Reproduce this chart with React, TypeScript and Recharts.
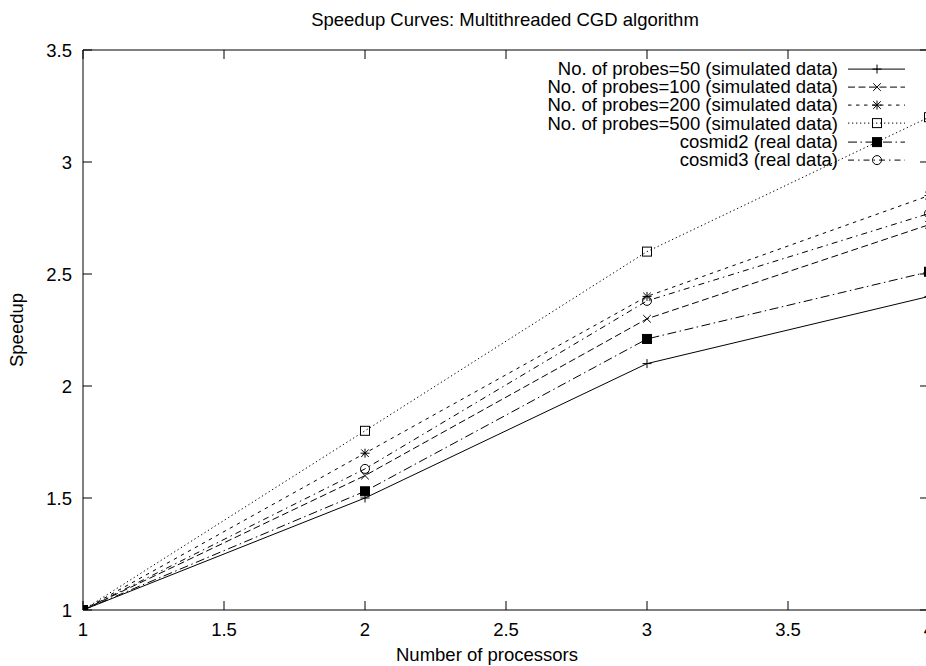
import React from 'react';
import { LineChart, Line, XAxis, YAxis, Legend, Label } from 'recharts';

const FONT = '"Liberation Sans", Arial, Helvetica, sans-serif';
const FS = 18.5;

const processors = [1, 2, 3, 4];
const probes50 = [1, 1.5, 2.1, 2.4];
const probes100 = [1, 1.6, 2.3, 2.72];
const probes200 = [1, 1.7, 2.4, 2.85];
const probes500 = [1, 1.8, 2.6, 3.2];
const cosmid2 = [1, 1.53, 2.21, 2.51];
const cosmid3 = [1, 1.63, 2.38, 2.77];
const xTicks = [1, 1.5, 2, 2.5, 3, 3.5, 4];
const yTicks = [1, 1.5, 2, 2.5, 3, 3.5];
const seriesNames = [
  'No. of probes=50 (simulated data)',
  'No. of probes=100 (simulated data)',
  'No. of probes=200 (simulated data)',
  'No. of probes=500 (simulated data)',
  'cosmid2 (real data)',
  'cosmid3 (real data)',
];
const titleText = 'Speedup Curves: Multithreaded CGD algorithm';
const xLabel = 'Number of processors';
const yLabel = 'Speedup';

const data = processors.map((x, i) => ({
  x,
  p50: probes50[i],
  p100: probes100[i],
  p200: probes200[i],
  p500: probes500[i],
  c2: cosmid2[i],
  c3: cosmid3[i],
}));

type MarkerType = 'plus' | 'cross' | 'star' | 'box' | 'fbox' | 'circle';

const series: { key: string; name: string; dash?: string; marker: MarkerType }[] = [
  { key: 'p50', name: seriesNames[0], dash: undefined, marker: 'plus' },
  { key: 'p100', name: seriesNames[1], dash: '7 3.5', marker: 'cross' },
  { key: 'p200', name: seriesNames[2], dash: '3.5 4.5', marker: 'star' },
  { key: 'p500', name: seriesNames[3], dash: '1.3 2.7', marker: 'box' },
  { key: 'c2', name: seriesNames[4], dash: '9 3.5 1.5 3.5', marker: 'fbox' },
  { key: 'c3', name: seriesNames[5], dash: '6 4 1.5 4', marker: 'circle' },
];

function Marker({ type, cx, cy }: { type: MarkerType; cx: number; cy: number }) {
  const s = 4.5;
  const d = 3.8;
  const common = { stroke: '#000', strokeWidth: 1, strokeDasharray: 'none' } as any;
  switch (type) {
    case 'plus':
      return (
        <g>
          <line x1={cx - s} y1={cy} x2={cx + s} y2={cy} {...common} />
          <line x1={cx} y1={cy - s} x2={cx} y2={cy + s} {...common} />
        </g>
      );
    case 'cross':
      return (
        <g>
          <line x1={cx - d} y1={cy - d} x2={cx + d} y2={cy + d} {...common} />
          <line x1={cx - d} y1={cy + d} x2={cx + d} y2={cy - d} {...common} />
        </g>
      );
    case 'star':
      return (
        <g>
          <line x1={cx - s} y1={cy} x2={cx + s} y2={cy} {...common} />
          <line x1={cx} y1={cy - s} x2={cx} y2={cy + s} {...common} />
          <line x1={cx - d} y1={cy - d} x2={cx + d} y2={cy + d} {...common} />
          <line x1={cx - d} y1={cy + d} x2={cx + d} y2={cy - d} {...common} />
        </g>
      );
    case 'box':
      return <rect x={cx - s} y={cy - s} width={2 * s} height={2 * s} fill="none" {...common} />;
    case 'fbox':
      return <rect x={cx - s} y={cy - s} width={2 * s} height={2 * s} fill="#000" {...common} />;
    case 'circle':
    default:
      return <circle cx={cx} cy={cy} r={s} fill="none" {...common} />;
  }
}

function LegendContent() {
  return (
    <div style={{ fontFamily: FONT, fontSize: FS, color: '#000' }}>
      {series.map((s) => (
        <div key={s.key} style={{ display: 'flex', alignItems: 'center', height: 18.2 }}>
          <div style={{ width: 438, height: 16, lineHeight: '16px', textAlign: 'right', whiteSpace: 'nowrap' }}>
            {s.name}
          </div>
          <svg width={82} height={18.2} style={{ display: 'block' }}>
            <line x1={10} y1={9.1} x2={67} y2={9.1} stroke="#000" strokeWidth={1} strokeDasharray={s.dash} />
            <Marker type={s.marker} cx={39} cy={9.1} />
          </svg>
        </div>
      ))}
    </div>
  );
}

export default function App() {
  const tickStyle = { fill: '#000', fontSize: FS, fontFamily: FONT };
  return (
    <div
      style={{
        position: 'absolute',
        left: 0,
        top: 0,
        width: 926,
        height: 666,
        overflow: 'hidden',
        background: '#fff',
        fontFamily: FONT,
      }}
    >
      <LineChart width={980} height={666} data={data} margin={{ top: 40, right: 41, bottom: 26, left: 33 }}>
        <XAxis
          xAxisId="b"
          dataKey="x"
          type="number"
          orientation="bottom"
          domain={[1, 4]}
          allowDataOverflow
          ticks={xTicks}
          interval={0}
          height={30}
          stroke="#000"
          tickSize={-9}
          tickMargin={22}
          tick={tickStyle}
          tickLine={{ stroke: '#000' }}
        >
          <Label
            content={(p: any) => {
              const vb = p.viewBox || { x: 83, width: 846 };
              return (
                <text x={vb.x + vb.width / 2 - 19} y={661} textAnchor="middle" fontSize={FS} fontFamily={FONT} fill="#000">
                  {xLabel}
                </text>
              );
            }}
          />
        </XAxis>
        <XAxis
          xAxisId="t"
          dataKey="x"
          type="number"
          orientation="top"
          domain={[1, 4]}
          allowDataOverflow
          ticks={xTicks}
          interval={0}
          height={10}
          stroke="#000"
          tickSize={-9}
          tickFormatter={() => ''}
          tickLine={{ stroke: '#000' }}
        />
        <YAxis
          yAxisId="l"
          type="number"
          orientation="left"
          domain={[1, 3.5]}
          allowDataOverflow
          ticks={yTicks}
          interval={0}
          width={50}
          stroke="#000"
          tickSize={-9}
          tickMargin={20}
          tick={tickStyle}
          tickLine={{ stroke: '#000' }}
        >
          <Label
            content={(p: any) => {
              const vb = p.viewBox || { y: 50, height: 560 };
              const cy = vb.y + vb.height / 2;
              return (
                <text
                  x={23}
                  y={cy}
                  textAnchor="middle"
                  fontSize={FS}
                  fontFamily={FONT}
                  fill="#000"
                  transform={`rotate(-90, 23, ${cy})`}
                >
                  {yLabel}
                </text>
              );
            }}
          />
        </YAxis>
        <YAxis
          yAxisId="r"
          type="number"
          orientation="right"
          domain={[1, 3.5]}
          allowDataOverflow
          ticks={yTicks}
          interval={0}
          width={10}
          stroke="#000"
          tickSize={-9}
          tickFormatter={() => ''}
          tickLine={{ stroke: '#000' }}
        />
        {series.map((s) => (
          <Line
            key={s.key}
            xAxisId="b"
            yAxisId="l"
            type="linear"
            dataKey={s.key}
            name={s.name}
            stroke="#000"
            strokeWidth={1}
            strokeDasharray={s.dash}
            isAnimationActive={false}
            dot={(p: any) => <Marker key={`${s.key}-${p.index}`} type={s.marker} cx={p.cx} cy={p.cy} />}
            activeDot={false}
          />
        ))}
        <Legend
          layout="vertical"
          align="center"
          verticalAlign="middle"
          content={() => <LegendContent />}
          wrapperStyle={{ left: 400, top: 59.9, width: 520, height: 'auto' }}
        />
      </LineChart>
      <div
        style={{
          position: 'absolute',
          left: 205,
          top: 11.3,
          width: 600,
          textAlign: 'center',
          fontSize: FS,
          lineHeight: `${FS}px`,
          color: '#000',
          fontFamily: FONT,
          whiteSpace: 'nowrap',
          zIndex: 2,
        }}
      >
        {titleText}
      </div>
    </div>
  );
}
